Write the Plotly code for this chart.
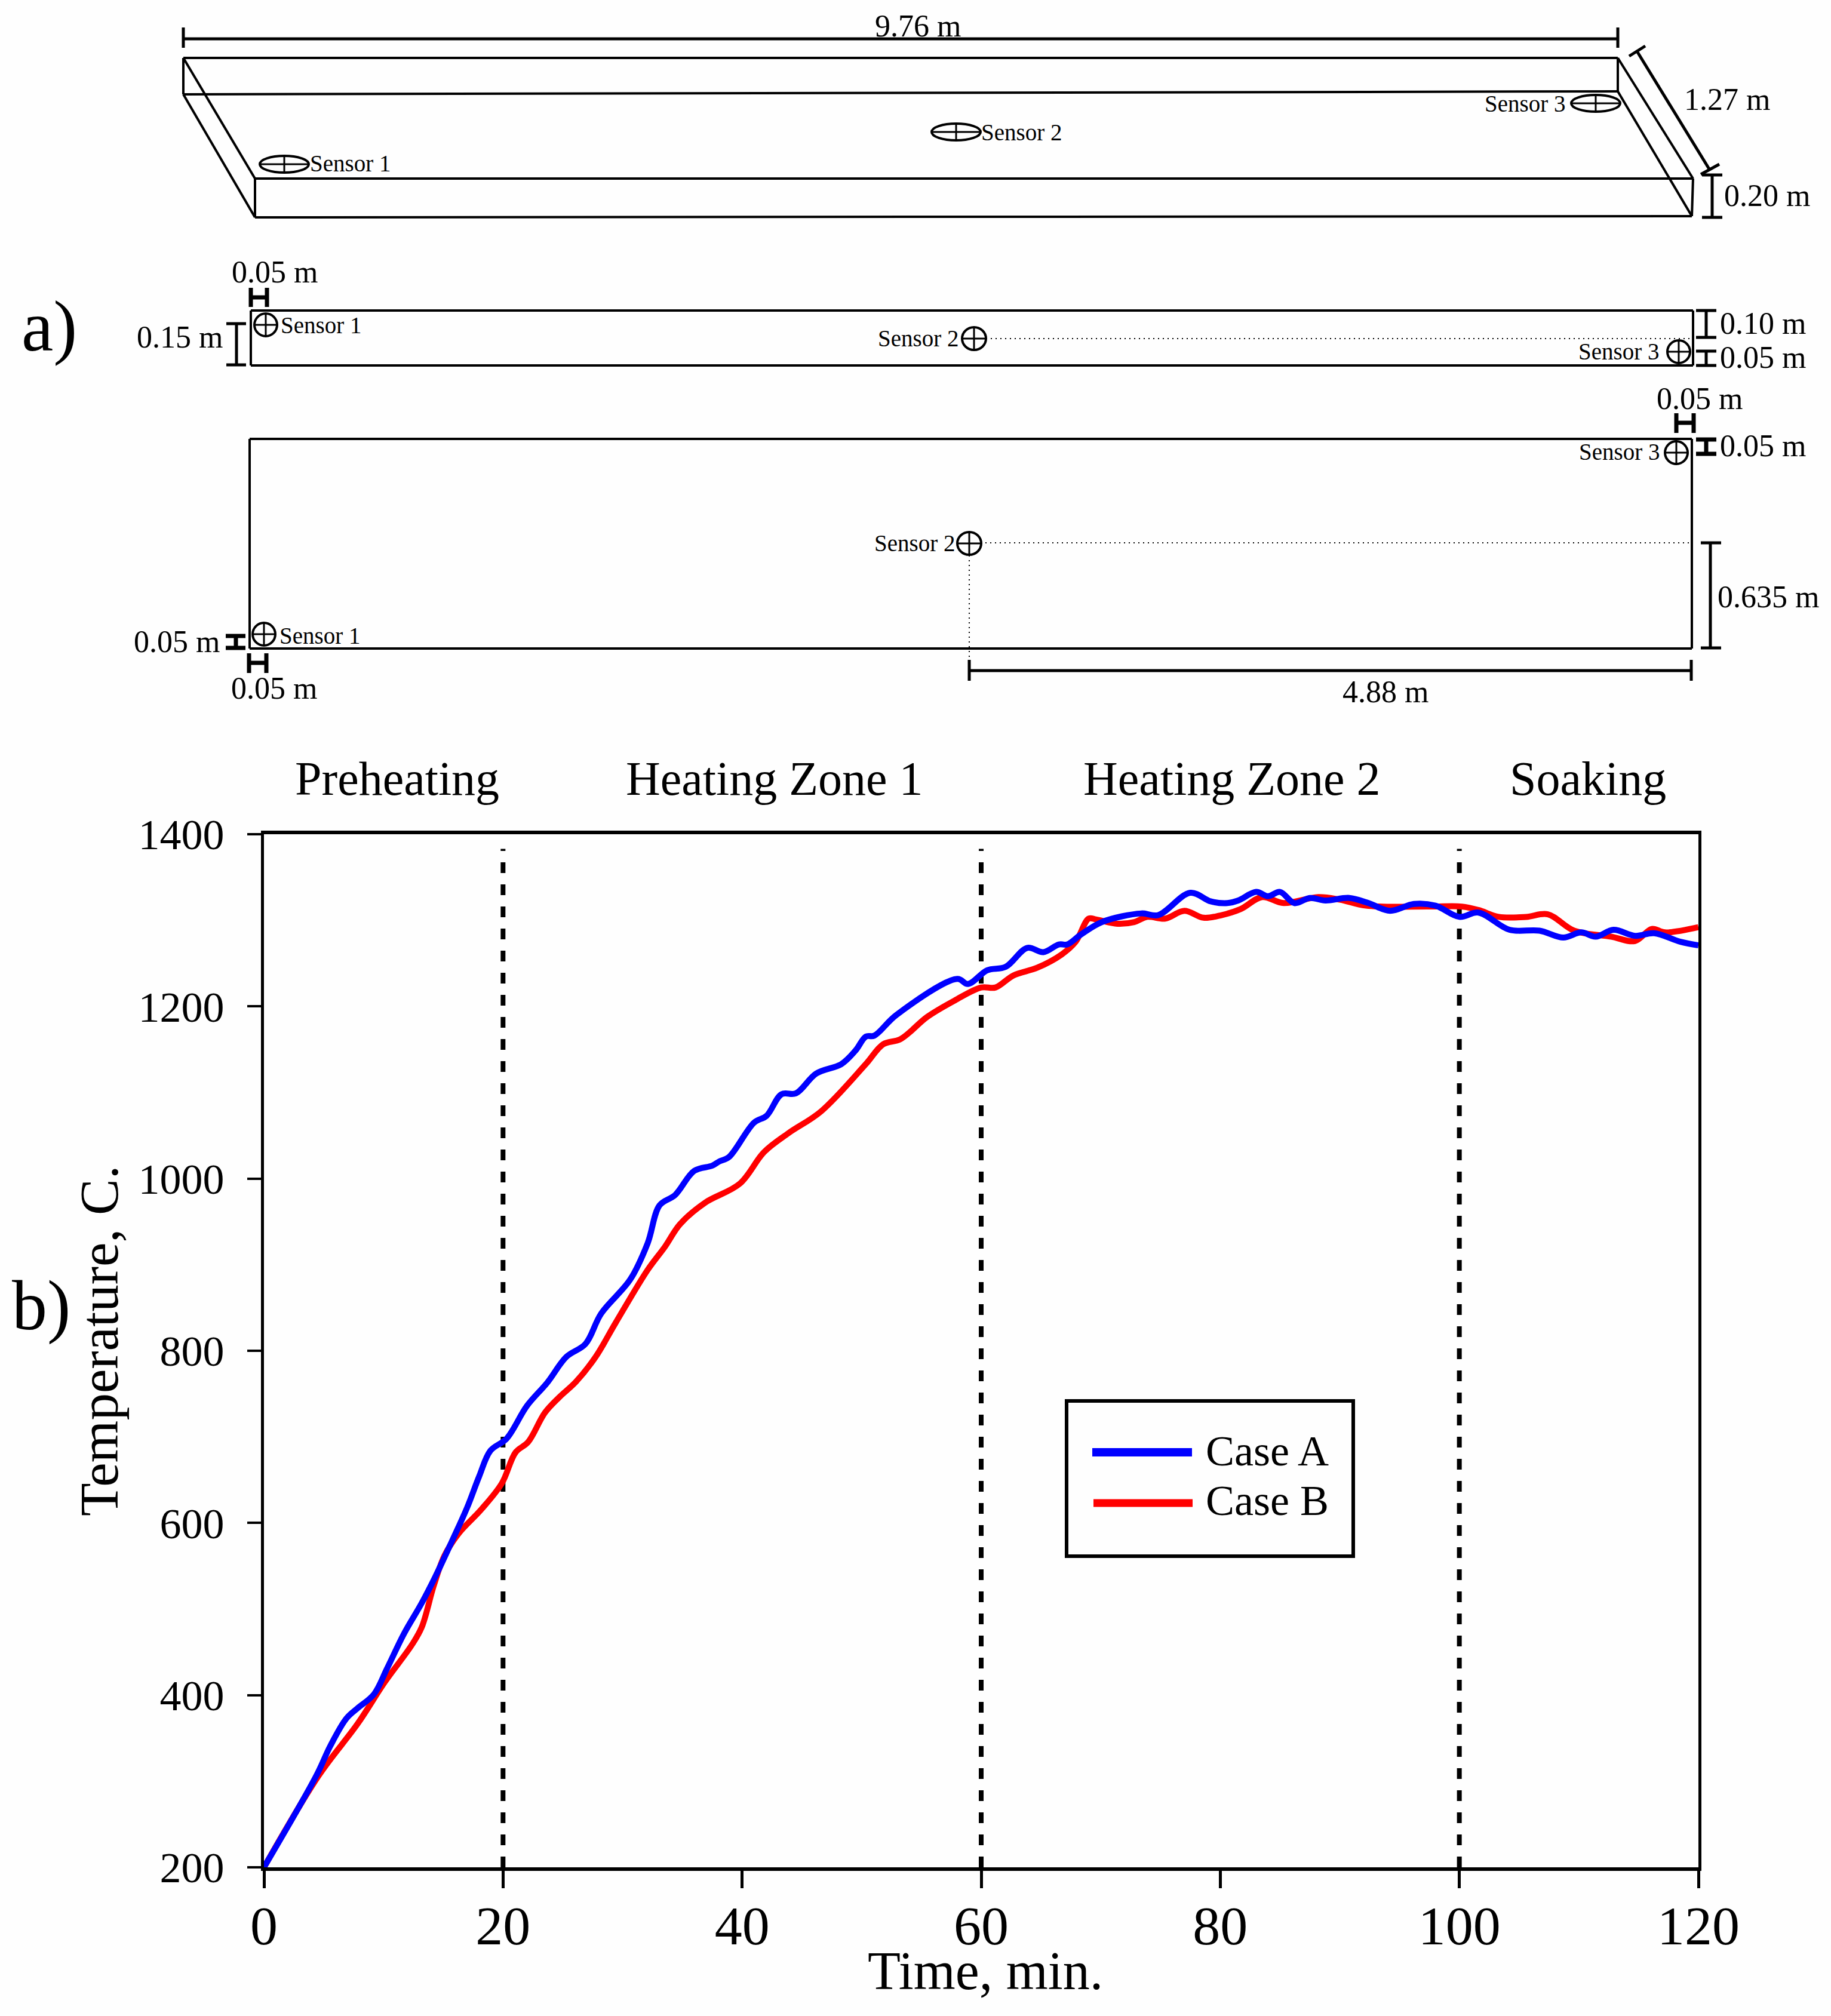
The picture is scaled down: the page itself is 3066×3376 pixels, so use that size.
import plotly.graph_objects as go

W, H = 3066, 3376

# temperature curves read off panel b)
time_a = [0, 4.4, 5.55, 6.9, 7.85, 9.2, 10.3, 11.7, 13.2, 14.35, 15.7, 17, 18, 18.95, 20.3, 22, 23.7, 25.3, 26.9, 28.2,
          30.65, 32.1, 33.1, 34.4, 36, 37.5, 38.1, 38.9, 41, 42.05, 43.3, 44.5, 46.2, 48.3, 49.5, 50.35, 51.05, 52.9,
          58, 58.9, 60.5, 62.05, 63.85, 65.2, 66.5, 67.2, 68.3, 70.1, 73.4, 74.8, 77.5, 79.2, 80.6, 81.5, 83, 84, 85,
          86.2, 87.5, 88.8, 90.8, 92.4, 94.2, 96.2, 98, 100, 101.6, 104.2, 106.7, 108.7, 110.2, 111.4, 112.9, 114.7,
          116.3, 118.5, 120]
temp_a = [200, 307, 341, 373, 385, 401, 431, 471, 507, 538, 578, 618, 654, 684, 698, 736, 763, 793, 808, 843,
          883, 925, 969, 981, 1009, 1015, 1020, 1025, 1065, 1073, 1098, 1099, 1122, 1133, 1149, 1165, 1166, 1190,
          1232, 1226, 1242, 1246, 1268, 1263, 1272, 1272, 1283, 1298, 1308, 1306, 1332, 1322, 1320, 1323, 1333, 1328,
          1333, 1320, 1326, 1323, 1326, 1320, 1311, 1319, 1317, 1304, 1309, 1289, 1288, 1280, 1286, 1281, 1289, 1282,
          1285, 1275, 1271]
time_b = [0, 4.6, 7.85, 10.1, 12.4, 13.2, 14.2, 15.1, 16.3, 18.2, 19.9, 21.05, 22.1, 23.5, 24.7, 26.1, 27.75, 29.4, 32.1,
          33.55, 34.8, 36.9, 39.8, 41.85, 43.9, 46.6, 50.35, 51.8, 53.25, 55.5, 57.8, 60, 61.2, 62.7, 64.7, 66.7, 67.9,
          69, 69.6, 71.4, 72.8, 73.9, 75.4, 77, 78.6, 80.1, 81.7, 83.5, 85.3, 88.2, 90, 92.2, 97.5, 100.2, 101.6, 103.3,
          105.6, 107.4, 109.6, 112.7, 114.7, 116.1, 117.2, 120]
temp_b = [200, 307, 367, 415, 459, 479, 527, 562, 588, 616, 646, 682, 694, 728, 746, 764, 793, 832, 894,
          921, 947, 972, 994, 1031, 1053, 1078, 1133, 1156, 1162, 1188, 1207, 1222, 1222, 1236, 1245, 1260, 1275,
          1302, 1301, 1296, 1298, 1304, 1302, 1311, 1303, 1306, 1313, 1327, 1320, 1327, 1324, 1317, 1316, 1316, 1312,
          1304, 1304, 1307, 1288, 1281, 1276, 1290, 1286, 1292]

phase_bounds = [20, 60, 100]
x_ticks = [0, 20, 40, 60, 80, 100, 120]
y_ticks = [200, 400, 600, 800, 1000, 1200, 1400]

# schematic of panel a), drawn on a hidden axis pair that spans the page
thin_lines = [
    (307, 97, 2709, 97), (307, 158, 2709, 153), (307, 97, 307, 158), (2709, 97, 2709, 153),
    (427, 299, 2835, 299), (427, 364, 2833, 362), (427, 299, 427, 364), (2835, 299, 2833, 362),
    (307, 97, 427, 299), (307, 158, 427, 364), (2709, 97, 2835, 299), (2709, 153, 2833, 362),
    (420, 520, 2835, 520), (420, 612, 2835, 612), (420, 520, 420, 612), (2835, 520, 2835, 612),
    (418, 735, 2833, 735), (418, 1086, 2833, 1086), (418, 735, 418, 1086), (2833, 735, 2833, 1086),
]
dim_lines = [
    (307, 65, 2709, 65), (307, 46, 307, 80), (2709, 46, 2709, 80),
    (2740, 84, 2862, 283), (2728, 94, 2755, 77), (2848, 292, 2879, 275),
    (2867, 293, 2867, 364), (2850, 293, 2884, 293), (2850, 364, 2884, 364),
    (396, 542, 396, 611), (379, 542, 412, 542), (379, 611, 412, 611),
    (2857, 520, 2857, 565), (2840, 520, 2874, 520), (2840, 565, 2874, 565),
    (2857, 588, 2857, 612), (2840, 588, 2874, 588), (2840, 612, 2874, 612),
    (1623, 1123, 2832, 1123), (1623, 1105, 1623, 1140), (2832, 1105, 2832, 1140),
    (2864, 909, 2864, 1085), (2848, 909, 2882, 909), (2848, 1085, 2882, 1085),
]
h_marks = [
    (420, 482, 420, 514), (447, 482, 447, 514), (420, 498, 447, 498),
    (395, 1065, 395, 1085), (378, 1065, 411, 1065), (378, 1085, 411, 1085),
    (417, 1094, 417, 1127), (446, 1094, 446, 1127), (417, 1110, 446, 1110),
    (2807, 692, 2807, 725), (2836, 692, 2836, 725), (2807, 708, 2836, 708),
    (2857, 736, 2857, 760), (2840, 736, 2874, 736), (2840, 760, 2874, 760),
]
dotted_lines = [(1651, 567, 2835, 567), (1642, 909, 2833, 909), (1623, 930, 1623, 1105)]
sensors = [  # centre x, centre y, radius x, radius y
    (476, 275, 41, 14), (1601, 221, 41, 14), (2672, 173, 41, 14),
    (445, 544, 19, 19), (1631, 567, 20, 19), (2811, 589, 19, 19),
    (442, 1062, 19, 19), (1623, 910, 20, 19), (2807, 758, 19, 19),
]
labels = [
    ('9.76 m', 1537, 43, 52), ('1.27 m', 2892, 166, 52), ('0.20 m', 2959, 327, 52),
    ('0.05 m', 460, 455, 52), ('0.15 m', 301, 564, 52), ('0.10 m', 2952, 541, 52), ('0.05 m', 2952, 598, 52),
    ('0.05 m', 2846, 667, 52), ('0.05 m', 2952, 746, 52), ('0.635 m', 2961, 999, 52),
    ('0.05 m', 296, 1074, 52), ('0.05 m', 459, 1152, 52), ('4.88 m', 2320, 1158, 52),
    ('Sensor 1', 586, 273, 39), ('Sensor 2', 1710, 221, 39), ('Sensor 3', 2553, 173, 39),
    ('Sensor 1', 537, 544, 39), ('Sensor 2', 1537, 566, 39), ('Sensor 3', 2710, 588, 39),
    ('Sensor 1', 535, 1064, 39), ('Sensor 2', 1531, 909, 39), ('Sensor 3', 2711, 756, 39),
    ('a)', 82, 546, 120), ('b)', 69, 2186, 118),
    ('Preheating', 665, 1304, 80), ('Heating Zone 1', 1297, 1304, 80),
    ('Heating Zone 2', 2063, 1304, 80), ('Soaking', 2659, 1304, 80),
    ('Case A', 2122, 2430, 72), ('Case B', 2122, 2513, 72),
]
legend_box = (1786, 2346, 2266, 2606)
legend_a = [(1829, 2432, 1996, 2432)]
legend_b = [(1831, 2517, 1997, 2517)]

SERIF = 'Liberation Serif'


def seg_trace(segments, width, dash='solid', color='black'):
    xs, ys = [], []
    for x0, y0, x1, y1 in segments:
        xs += [x0, x1, None]
        ys += [y0, y1, None]
    return go.Scatter(x=xs, y=ys, xaxis='x2', yaxis='y2', mode='lines', hoverinfo='skip',
                      line=dict(color=color, width=width, dash=dash))


fig = go.Figure()

for t in phase_bounds:
    fig.add_trace(go.Scatter(x=[t, t], y=[200, 1383], mode='lines', line=dict(color='black', width=8, dash='18px,19px')))
fig.add_trace(go.Scatter(x=time_b, y=temp_b, mode='lines', name='Case B',
                         line=dict(color='#ff0000', width=10, shape='spline', smoothing=1)))
fig.add_trace(go.Scatter(x=time_a, y=temp_a, mode='lines', name='Case A',
                         line=dict(color='#0000ff', width=10, shape='spline', smoothing=1)))

fig.add_trace(seg_trace(thin_lines, 4))
fig.add_trace(seg_trace(dim_lines, 5))
fig.add_trace(seg_trace(h_marks, 7))
fig.add_trace(seg_trace(dotted_lines, 2, '2px,6px'))
cross = []
for cx, cy, rx, ry in sensors:
    cross += [(cx - rx, cy, cx + rx, cy), (cx, cy - ry, cx, cy + ry)]
fig.add_trace(seg_trace(cross, 3))
fig.add_trace(seg_trace(legend_a, 14, color='#0000ff'))
fig.add_trace(seg_trace(legend_b, 13, color='#ff0000'))

for cx, cy, rx, ry in sensors:
    fig.add_shape(type='circle', xref='x2', yref='y2', x0=cx - rx, x1=cx + rx, y0=cy - ry, y1=cy + ry,
                  line=dict(color='black', width=4))
fig.add_shape(type='rect', xref='x2', yref='y2', x0=legend_box[0], y0=legend_box[1], x1=legend_box[2], y1=legend_box[3],
              line=dict(color='black', width=6))
for text, x, y, size in labels:
    fig.add_annotation(text=text, x=x, y=y, xref='x2', yref='y2', showarrow=False, xanchor='center', yanchor='middle',
                       font=dict(family=SERIF, size=size, color='black'))
fig.add_annotation(text='Time, min.', x=1650, y=3300, xref='x2', yref='y2', showarrow=False,
                   font=dict(family=SERIF, size=90, color='black'))
fig.add_annotation(text='Temperature, C.', x=166, y=2246, xref='x2', yref='y2', showarrow=False, textangle=-90,
                   font=dict(family=SERIF, size=91, color='black'))

fig.update_layout(
    width=W, height=H, margin=dict(l=0, r=0, t=0, b=0), autosize=False, showlegend=False,
    paper_bgcolor='#fefefe', plot_bgcolor='rgba(0,0,0,0)', font=dict(family=SERIF, color='black'),
    xaxis=dict(domain=[442 / W, 2844 / W], range=[0, 120], tickvals=x_ticks, ticks='outside', ticklen=29, tickwidth=5,
               tickcolor='black', showline=True, linewidth=6, linecolor='black', mirror=True, showgrid=False,
               zeroline=False, tickfont=dict(size=92), ticklabelstandoff=-16, automargin=False),
    yaxis=dict(domain=[1 - 3127 / H, 1 - 1397 / H], range=[200, 1400], tickvals=y_ticks, ticks='outside', ticklen=23,
               tickwidth=4, tickcolor='black', showline=True, linewidth=5, linecolor='black', mirror=True,
               showgrid=False, zeroline=False, tickfont=dict(size=72), ticklabelstandoff=24, automargin=False),
    xaxis2=dict(domain=[0, 1], range=[0, W], visible=False, anchor='y2', automargin=False),
    yaxis2=dict(domain=[0, 1], range=[H, 0], visible=False, anchor='x2', automargin=False),
)

fig.write_html('out.html', config={'displayModeBar': False}, post_script="document.body.style.margin='0';")
